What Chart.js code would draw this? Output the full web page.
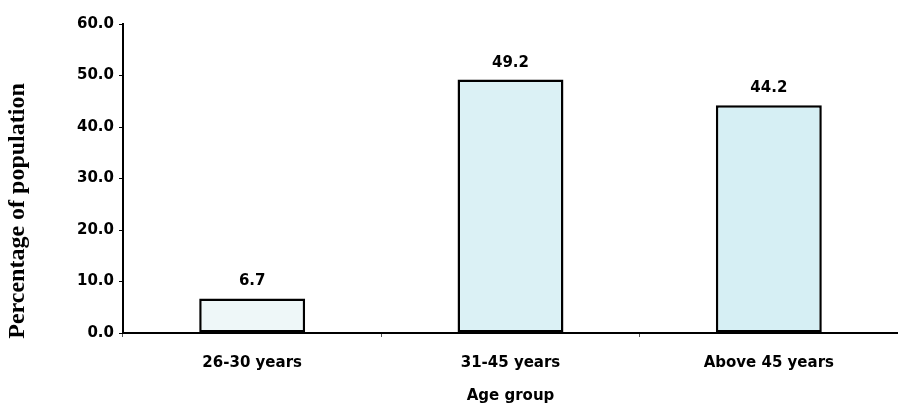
<!DOCTYPE html>
<html>
<head>
<meta charset="utf-8">
<script src="https://cdn.jsdelivr.net/npm/chart.js@4/dist/chart.umd.min.js"></script>
<style>
  html, body { margin: 0; padding: 0; background: #fff; }
  #wrap { width: 898px; height: 409px; position: relative; }
</style>
</head>
<body>
<div id="wrap"><canvas id="age-chart"></canvas></div>
<script>
// data
const ageGroups = ['26-30 years', '31-45 years', 'Above 45 years'];
const percentages = [6.7, 49.2, 44.2];
const barColors = ['#eef7f8', '#dbf1f5', '#d6eff4'];
const yTitle = 'Percentage of population';

const sansBold = '"DejaVu Sans", Verdana, sans-serif';

// value above each bar, and the y title (sits lower than the axis centre in the original)
const extras = {
  id: 'extras',
  afterDatasetsDraw(chart) {
    const ctx = chart.ctx;
    const meta = chart.getDatasetMeta(0);
    ctx.save();
    ctx.fillStyle = '#000';
    ctx.font = 'bold 15px ' + sansBold;
    ctx.textAlign = 'center';
    ctx.textBaseline = 'middle';
    meta.data.forEach((bar, i) => {
      ctx.fillText(percentages[i].toFixed(1), bar.x, bar.y - 17);
    });

    ctx.translate(18, 211);
    ctx.rotate(-Math.PI / 2);
    ctx.font = 'bold 24px "Liberation Serif", "Times New Roman", serif';
    ctx.fillText(yTitle, 0, 0);
    ctx.restore();
  }
};

const canvas = document.querySelector('#age-chart');

new Chart(canvas.getContext('2d'), {
  type: 'bar',
  data: {
    labels: ageGroups,
    datasets: [{
      label: yTitle,
      data: percentages,
      backgroundColor: barColors,
      borderColor: '#000',
      borderWidth: 2.5,
      borderSkipped: false,
      categoryPercentage: 0.82,
      barPercentage: 0.5
    }]
  },
  options: {
    responsive: true,
    maintainAspectRatio: false,
    animation: false,
    layout: { padding: { left: 0, right: 0, top: 24, bottom: 0 } },
    plugins: {
      legend: { display: false },
      tooltip: { enabled: false }
    },
    scales: {
      x: {
        afterFit(scale) { scale.height = 76; },
        grid: { display: true, drawOnChartArea: false, tickLength: 4, color: '#555', offset: true },
        border: { color: '#000', width: 2 },
        ticks: {
          color: '#000',
          padding: 17,
          font: { family: sansBold, size: 15, weight: 'bold' }
        },
        title: {
          display: true,
          text: 'Age group',
          color: '#000',
          padding: { top: 0, bottom: 4 },
          font: { family: sansBold, size: 15, weight: 'bold' }
        }
      },
      y: {
        min: 0,
        max: 60,
        afterFit(scale) { scale.width = 123; },
        grid: { display: true, drawOnChartArea: false, tickLength: 4, color: '#000' },
        border: { color: '#000', width: 2 },
        ticks: {
          stepSize: 10,
          color: '#000',
          padding: 5,
          callback: v => Number(v).toFixed(1),
          font: { family: sansBold, size: 15, weight: 'bold' }
        }
      }
    }
  },
  plugins: [extras]
});
</script>
</body>
</html>
